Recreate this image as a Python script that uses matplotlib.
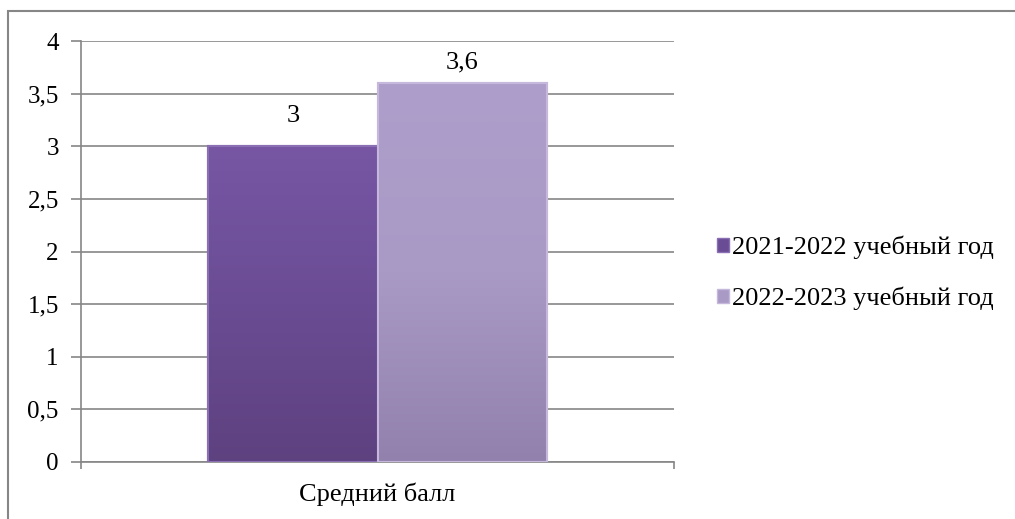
import numpy as np
import matplotlib.pyplot as plt
from matplotlib.patches import Rectangle, Patch
from matplotlib.colors import LinearSegmentedColormap

plt.rcParams['font.family'] = ['Liberation Serif', 'DejaVu Serif']

# data
category = 'Средний балл'
series = ['2021-2022 учебный год', '2022-2023 учебный год']
values = [3.0, 3.6]
value_labels = ['3', '3,6']
yticks = [0, 0.5, 1, 1.5, 2, 2.5, 3, 3.5, 4]
ytick_labels = ['0', '0,5', '1', '1,5', '2', '2,5', '3', '3,5', '4']
colors = ['#6a4c94', '#a999c5']
tops = ['#7756a4', '#ae9ecb']
bottoms = ['#5e417f', '#9281ad']
edges = ['#8a6fb5', '#c6b8dc']

W, H = 1015, 519
fig = plt.figure(figsize=(W / 100, H / 100), dpi=100)

# outer chart border (cut off at right/bottom)
fig.patches.append(Rectangle((8 / W, -0.1), 1.2, 1 - 11 / H + 0.1, transform=fig.transFigure,
                             fill=False, edgecolor='#868686', lw=1.5))

ax = fig.add_axes([81 / W, (H - 462) / H, 593 / W, 421 / H])
bw = 0.285
xs = [-bw / 2, bw / 2]
grad = np.linspace(0, 1, 256).reshape(-1, 1)
for x, v, c, t, b, e, lab in zip(xs, values, colors, tops, bottoms, edges, value_labels):
    bar = ax.bar(x, v, width=bw, color=c, edgecolor=e, linewidth=1.5, zorder=3)[0]
    cmap = LinearSegmentedColormap.from_list('g', [b, c, t])
    im = ax.imshow(grad, cmap=cmap, aspect='auto', origin='lower', zorder=3.5,
                   extent=[x - bw / 2, x + bw / 2, 0, v])
    im.set_clip_path(bar)
    ax.bar(x, v, width=bw, fill=False, edgecolor=e, linewidth=1.5, zorder=4)
    ly = min(v + 0.285, 3.8)
    ax.text(x, ly, lab, ha='center', va='center', fontsize=19)

ax.set_xlim(-0.5, 0.5)
ax.set_ylim(0, 4)
ax.set_yticks(yticks)
ax.set_yticklabels(ytick_labels, fontsize=18)
ax.set_xticks([0])
ax.set_xticklabels([category], fontsize=19)
ax.tick_params(axis='x', length=0, pad=15)
ax.set_xticks([-0.5, 0.5], minor=True)
ax.tick_params(axis='x', which='minor', length=5, color='#868686', width=1.2)
ax.tick_params(axis='y', length=7, color='#868686', width=1.2, pad=9)
ax.grid(axis='y', color='#868686', lw=1.2, zorder=0)
for s in ['top', 'right']:
    ax.spines[s].set_visible(False)
for s in ['left', 'bottom']:
    ax.spines[s].set_color('#868686')
    ax.spines[s].set_linewidth(1.2)

handles = [Patch(facecolor=c, edgecolor=e) for c, e in zip(colors, edges)]
fig.legend(handles, series, loc='center left', bbox_to_anchor=(717 / W, 1 - 273 / H),
           frameon=False, fontsize=19, handlelength=0.45, handleheight=0.45,
           handletextpad=0.12, labelspacing=1.05, borderpad=0, borderaxespad=0)

fig.savefig('out.png', dpi=100)
